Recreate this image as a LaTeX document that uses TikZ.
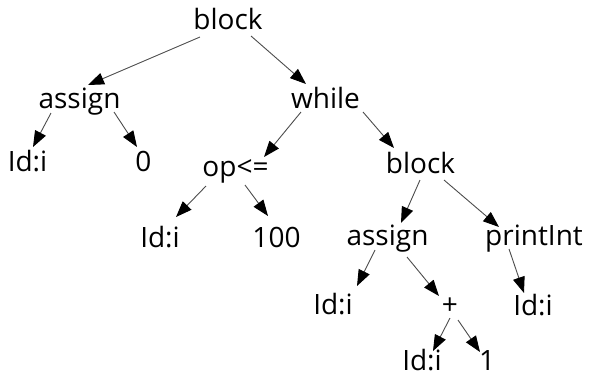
\documentclass[tikz,border=0pt]{standalone}
\usepackage{fontspec}
\setmainfont{Open Sans}
\usetikzlibrary{arrows.meta,calc}
\begin{document}
\begin{tikzpicture}[x=1pt,y=-1pt,
  lbl/.style={anchor=base,inner sep=0pt,font=\fontsize{28}{30}\selectfont},
  edge/.style={draw=black!70,line width=0.9pt,-{Triangle[length=16pt,width=12pt,black]}}]
\useasboundingbox (0,0) rectangle (592,376);
% nodes (x = text centre, y = baseline)
\node[lbl] (b0) at (228,29) {block};
\node[lbl] (as1) at (79.5,108) {assign};
\node[lbl] (wh) at (325.5,108) {while};
\node[lbl] (id1) at (27.5,171) {Id:i};
\node[lbl] (zero) at (143.5,171) {0};
\node[lbl] (op) at (235.5,176) {op<=};
\node[lbl] (b2) at (420.5,173) {block};
\node[lbl] (id2) at (160,247) {Id:i};
\node[lbl] (hund) at (276.5,247) {100};
\node[lbl] (as2) at (387.5,245) {assign};
\node[lbl] (pr) at (534,245) {printInt};
\node[lbl] (id3) at (333,314) {Id:i};
\node[lbl] (plus) at (450,314) {+};
\node[lbl] (id4) at (533,315) {Id:i};
\node[lbl] (id5) at (422,370) {Id:i};
\node[lbl] (one) at (487,370) {1};
% edges
\draw[edge] ($(b0.base)+(-28,8)$) -- ($(as1.base)+(8.5,-23)$);
\draw[edge] ($(b0.base)+(23,7)$) -- ($(wh.base)+(-19.5,-24)$);
\draw[edge] ($(as1.base)+(-28.5,5)$) -- ($(id1.base)+(5.5,-24)$);
\draw[edge] ($(as1.base)+(34.5,4)$) -- ($(zero.base)+(-6.5,-24)$);
\draw[edge] ($(wh.base)+(-24.5,4)$) -- ($(op.base)+(28.5,-19)$);
\draw[edge] ($(wh.base)+(37.5,4)$) -- ($(b2.base)+(-26.5,-25)$);
\draw[edge] ($(op.base)+(-29.5,10)$) -- ($(id2.base)+(16,-30)$);
\draw[edge] ($(op.base)+(9.5,9)$) -- ($(hund.base)+(-8.5,-31)$);
\draw[edge] ($(b2.base)+(-0.5,7)$) -- ($(as2.base)+(13.5,-22)$);
\draw[edge] ($(b2.base)+(23.5,7)$) -- ($(pr.base)+(-35,-18)$);
\draw[edge] ($(as2.base)+(-12.5,5)$) -- ($(id3.base)+(24,-28)$);
\draw[edge] ($(as2.base)+(19.5,12)$) -- ($(plus.base)+(-11,-18)$);
\draw[edge] ($(plus.base)+(0,4)$) -- ($(id5.base)+(11,-19)$);
\draw[edge] ($(plus.base)+(8,6)$) -- ($(one.base)+(-7,-18)$);
\draw[edge] ($(pr.base)+(-25,4)$) -- ($(id4.base)+(-9,-22)$);
\end{tikzpicture}
\end{document}
